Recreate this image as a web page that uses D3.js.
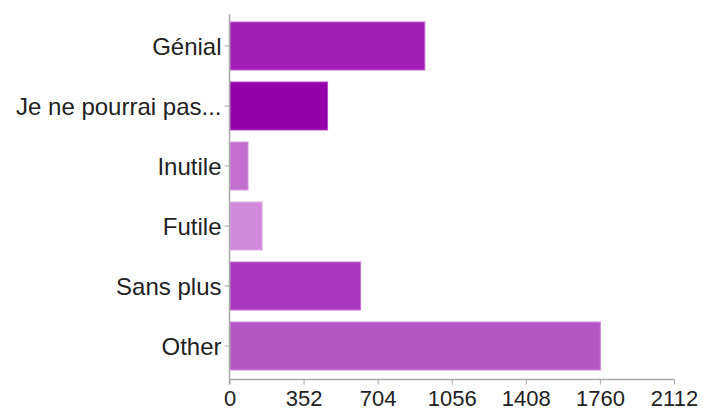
<!DOCTYPE html>
<html>
<head>
<meta charset="utf-8">
<script src="https://cdn.jsdelivr.net/npm/d3@7/dist/d3.min.js"></script>
<style>
  html, body { margin: 0; padding: 0; background: #fff; }
  svg { display: block; }
  text { font-family: "Liberation Sans", Arial, Helvetica, sans-serif; fill: #222; }
</style>
</head>
<body>
<svg id="chart" width="703" height="410"></svg>
<script>
const categories = ["Génial", "Je ne pourrai pas...", "Inutile", "Futile", "Sans plus", "Other"];
const values = [928, 466, 88, 155, 623, 1762];
const colors = ["#a21db5", "#9400aa", "#c46fd0", "#d08ad9", "#ab37be", "#b656c6"];
const tickValues = [0, 352, 704, 1056, 1408, 1760, 2112];

(function () {
const plotLeft = 229.5, plotRight = 674, plotTop = 16, plotBottom = 376, axisY = 379.5;

const svg = d3.select("#chart");

const x = d3.scaleLinear().domain([0, 2112]).range([plotLeft, plotRight]);
const y = d3.scaleBand().domain(categories).range([plotTop, plotBottom]).paddingInner(0.2).paddingOuter(0.1);

// bars
svg.append("g").selectAll("rect")
  .data(categories)
  .join("rect")
  .attr("x", x(0) + 0.5)
  .attr("y", d => y(d))
  .attr("width", (d, i) => x(values[i]) - x(0) - 0.5)
  .attr("height", y.bandwidth())
  .attr("fill", (d, i) => colors[i])
  .attr("stroke", (d, i) => d3.interpolateRgb(colors[i], "#ffffff")(0.3))
  .attr("stroke-width", 1);

// x axis
const xAxis = d3.axisBottom(x).tickValues(tickValues).tickFormat(d3.format("d"))
  .tickSize(5).tickSizeOuter(0).tickPadding(6);
const gx = svg.append("g").attr("transform", `translate(0,${axisY})`).call(xAxis);
gx.select(".domain").remove();
gx.selectAll(".tick line").attr("stroke", "#aaa");
gx.selectAll(".tick text").attr("font-size", 22).style("fill", "#222")
  .attr("font-family", "Liberation Sans, Arial, sans-serif");
gx.append("line").attr("x1", plotLeft).attr("x2", plotRight).attr("y1", 0).attr("y2", 0)
  .attr("stroke", "#aaa").attr("stroke-width", 1.5);

// y axis
const yAxis = d3.axisLeft(y).tickSize(5).tickSizeOuter(0).tickPadding(3);
const gy = svg.append("g").attr("transform", `translate(${plotLeft},0)`).call(yAxis);
gy.select(".domain").remove();
gy.selectAll(".tick line").attr("stroke", "#aaa");
gy.selectAll(".tick text").attr("font-size", 24).attr("dy", "0.36em").style("fill", "#222")
  .attr("font-family", "Liberation Sans, Arial, sans-serif");
gy.append("line").attr("x1", 0).attr("x2", 0).attr("y1", 14).attr("y2", axisY + 5)
  .attr("stroke", "#aaa").attr("stroke-width", 1.5);
})();
</script>
</body>
</html>
